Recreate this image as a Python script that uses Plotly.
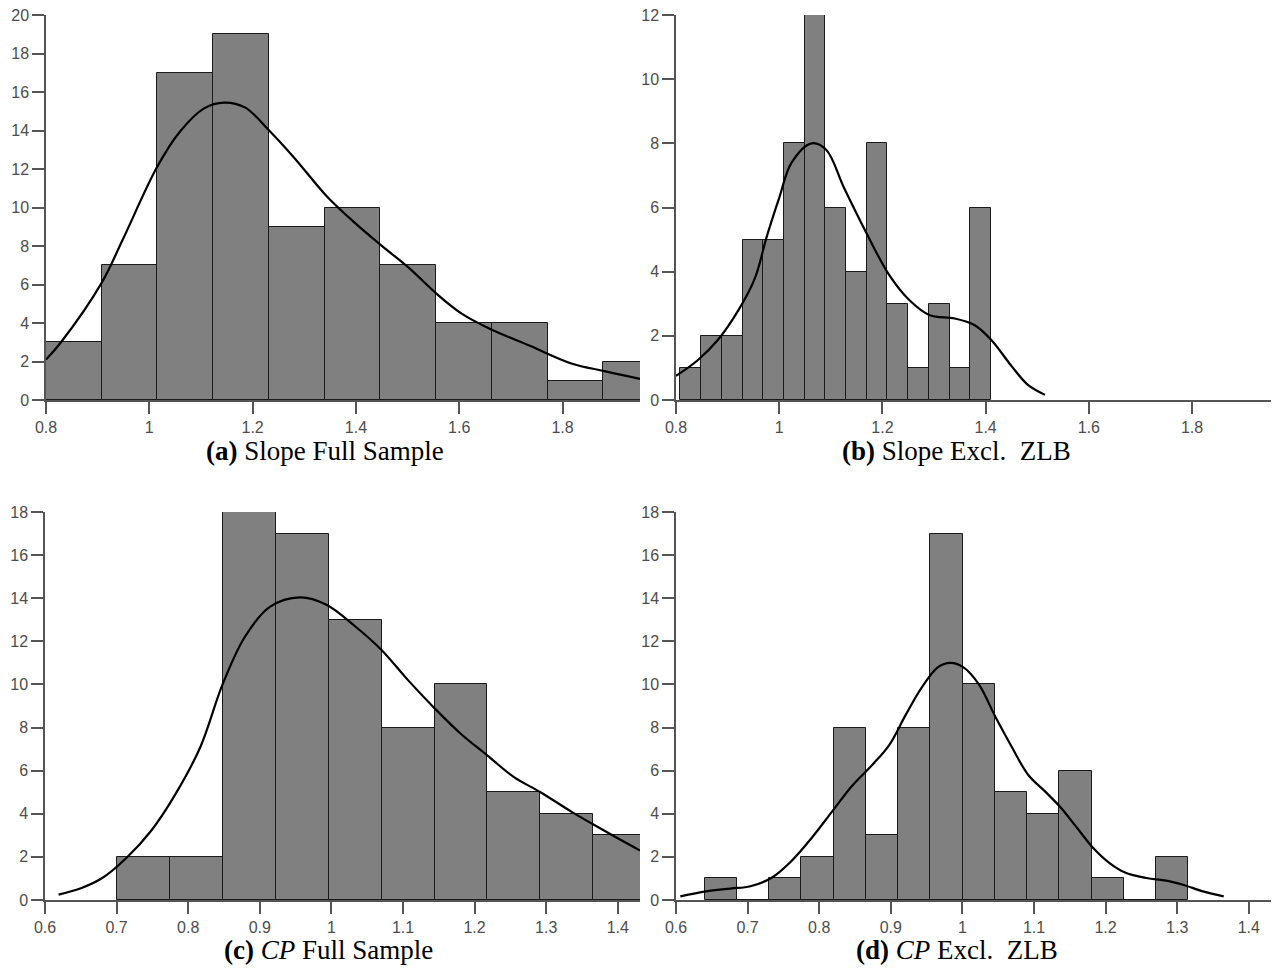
import plotly.graph_objects as go

W, H = 1276, 976

# ---------------- data ----------------
# (a) Slope Full Sample
a_edge0, a_width = 0.8, 0.1079
a_counts = [3, 7, 17, 19, 9, 10, 7, 4, 4, 1, 2]
a_kde_x = [0.8, 0.829, 0.908, 0.948, 1.015, 1.058, 1.106, 1.145, 1.185, 1.232, 1.280, 1.343,
           1.398, 1.446, 1.501, 1.557, 1.604, 1.659, 1.738, 1.817, 1.881, 1.95]
a_kde_y = [2.1, 3.0, 6.1, 8.3, 12.1, 13.9, 15.15, 15.45, 15.2, 14.0, 12.6, 10.6,
           9.2, 8.1, 6.9, 5.5, 4.5, 3.7, 2.8, 1.9, 1.5, 1.1]

# (b) Slope Excl. ZLB
b_edge0, b_width = 0.8087, 0.0401
b_counts = [1, 2, 2, 5, 5, 8, 12, 6, 4, 8, 3, 1, 3, 1, 6]
b_kde_x = [0.8, 0.842, 0.881, 0.921, 0.953, 0.976, 1.0, 1.024, 1.063, 1.091, 1.126, 1.166,
           1.213, 1.253, 1.292, 1.340, 1.379, 1.411, 1.451, 1.482, 1.515]
b_kde_y = [0.75, 1.24, 1.87, 2.8, 3.8, 5.1, 6.3, 7.4, 8.0, 7.8, 6.6, 5.3,
           3.9, 3.1, 2.64, 2.54, 2.33, 1.87, 1.04, 0.47, 0.16]

# (c) CP Full Sample
c_edge0, c_width = 0.7, 0.074
c_counts = [2, 2, 18, 17, 13, 8, 10, 5, 4, 3]
c_kde_x = [0.619, 0.651, 0.680, 0.714, 0.748, 0.782, 0.817, 0.848, 0.879, 0.914, 0.956, 0.993,
           1.033, 1.070, 1.107, 1.144, 1.181, 1.218, 1.255, 1.292, 1.335, 1.366, 1.398, 1.431]
c_kde_y = [0.25, 0.56, 1.02, 1.96, 3.2, 4.9, 7.1, 10.0, 12.2, 13.6, 14.04, 13.7,
           12.7, 11.6, 10.2, 8.9, 7.7, 6.7, 5.7, 5.0, 4.1, 3.5, 2.9, 2.3]

# (d) CP Excl. ZLB
d_edge0, d_width = 0.640, 0.04505
d_counts = [1, 0, 1, 2, 8, 3, 8, 17, 10, 5, 4, 6, 1, 0, 2]
d_kde_x = [0.606, 0.642, 0.676, 0.704, 0.733, 0.761, 0.790, 0.818, 0.846, 0.875, 0.898, 0.921,
           0.944, 0.966, 0.983, 1.001, 1.023, 1.046, 1.069, 1.092, 1.115, 1.137, 1.160, 1.183,
           1.206, 1.228, 1.257, 1.285, 1.308, 1.336, 1.365]
d_kde_y = [0.17, 0.40, 0.53, 0.64, 1.02, 1.8, 2.9, 4.1, 5.3, 6.3, 7.2, 8.6,
           9.9, 10.8, 11.0, 10.8, 10.0, 8.5, 7.1, 5.8, 5.05, 4.3, 3.35, 2.4,
           1.7, 1.26, 1.02, 0.90, 0.71, 0.40, 0.17]

captions = ["<b>(a)</b> Slope Full Sample", "<b>(b)</b> Slope Excl.  ZLB",
            "<b>(c)</b> <i>CP</i> Full Sample", "<b>(d)</b> <i>CP</i> Excl.  ZLB"]

panels = [
    dict(edge0=a_edge0, w=a_width, counts=a_counts, kx=a_kde_x, ky=a_kde_y,
         xr=[0.8, 1.95], yr=[0, 20], xt=[0.8, 1.0, 1.2, 1.4, 1.6, 1.8], yt=list(range(0, 21, 2)),
         px=(46, 640), py=(15, 400), cap=(325, 451)),
    dict(edge0=b_edge0, w=b_width, counts=b_counts, kx=b_kde_x, ky=b_kde_y,
         xr=[0.8, 1.953], yr=[0, 12], xt=[0.8, 1.0, 1.2, 1.4, 1.6, 1.8], yt=list(range(0, 13, 2)),
         px=(676, 1271), py=(15, 400), cap=(956, 451)),
    dict(edge0=c_edge0, w=c_width, counts=c_counts, kx=c_kde_x, ky=c_kde_y,
         xr=[0.6, 1.431], yr=[0, 18], xt=[0.6, 0.7, 0.8, 0.9, 1.0, 1.1, 1.2, 1.3, 1.4], yt=list(range(0, 19, 2)),
         px=(45, 640), py=(512, 900), cap=(328, 950)),
    dict(edge0=d_edge0, w=d_width, counts=d_counts, kx=d_kde_x, ky=d_kde_y,
         xr=[0.6, 1.431], yr=[0, 18], xt=[0.6, 0.7, 0.8, 0.9, 1.0, 1.1, 1.2, 1.3, 1.4], yt=list(range(0, 19, 2)),
         px=(676, 1271), py=(512, 900), cap=(957, 950)),
]

fig = go.Figure()
layout = dict(width=W, height=H, margin=dict(l=0, r=0, t=0, b=0, autoexpand=False),
              paper_bgcolor="white", plot_bgcolor="white", showlegend=False, bargap=0)
annotations = []
axcol = "#555555"
tickfont = dict(family="Liberation Sans, Arial, sans-serif", size=16, color="#4d4d4d")

for i, p in enumerate(panels):
    n = i + 1
    xa = "x" if n == 1 else f"x{n}"
    ya = "y" if n == 1 else f"y{n}"
    centers = [p["edge0"] + p["w"] * (k + 0.5) for k in range(len(p["counts"]))]
    fig.add_trace(go.Bar(x=centers, y=p["counts"], width=[p["w"]] * len(centers),
                         marker=dict(color="#808080", line=dict(color="#1a1a1a", width=1)),
                         xaxis=xa, yaxis=ya, hoverinfo="skip"))
    fig.add_trace(go.Scatter(x=p["kx"], y=p["ky"], mode="lines",
                             line=dict(color="black", width=2.2, shape="spline", smoothing=1.0),
                             xaxis=xa, yaxis=ya, hoverinfo="skip"))
    dx = [p["px"][0] / W, p["px"][1] / W]
    dy = [1 - p["py"][1] / H, 1 - p["py"][0] / H]
    xkey = "xaxis" if n == 1 else f"xaxis{n}"
    ykey = "yaxis" if n == 1 else f"yaxis{n}"
    layout[xkey] = dict(domain=dx, range=p["xr"], anchor=ya, tickvals=p["xt"],
                        ticktext=[("%g" % v) for v in p["xt"]], automargin=False,
                        showline=True, linecolor=axcol, linewidth=1.5, ticks="outside",
                        ticklen=12, tickwidth=1.5, tickcolor=axcol, showgrid=False, zeroline=False,
                        tickfont=tickfont, fixedrange=True)
    layout[ykey] = dict(domain=dy, range=p["yr"], anchor=xa, tickvals=p["yt"], automargin=False,
                        showline=True, linecolor=axcol, linewidth=1.5, ticks="outside",
                        ticklen=12, tickwidth=1.5, tickcolor=axcol, showgrid=False, zeroline=False,
                        tickfont=tickfont, fixedrange=True)
    annotations.append(dict(text=captions[i], x=p["cap"][0] / W, y=1 - p["cap"][1] / H,
                            xref="paper", yref="paper",
                            showarrow=False, xanchor="center", yanchor="middle",
                            font=dict(family="Liberation Serif, DejaVu Serif, serif", size=27, color="black")))

layout["annotations"] = annotations
fig.update_layout(**layout)
fig.write_html("out.html", config={"displayModeBar": False},
               post_script="document.body.style.margin='0';document.body.style.overflow='hidden';")
